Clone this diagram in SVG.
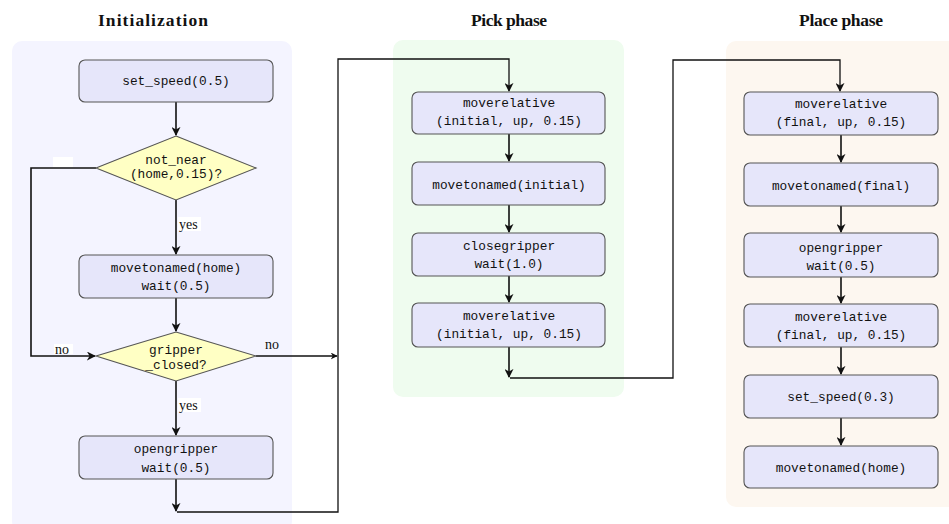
<svg xmlns="http://www.w3.org/2000/svg" width="949" height="524" viewBox="0 0 949 524">
  <style>
    .title { font-family: "Liberation Serif", "DejaVu Serif", serif; font-size: 17.5px; font-weight: bold; fill: #111; text-anchor: middle; }
    .box { fill: #e6e6fa; stroke: #555; stroke-width: 1.1; }
    .dec { fill: #ffffc4; stroke: #555; stroke-width: 1.1; }
    .code { font-family: "Liberation Mono", "DejaVu Sans Mono", monospace; font-size: 12.8px; fill: #111; text-anchor: middle; }
    .lbl { font-family: "Liberation Serif", "DejaVu Serif", serif; font-size: 14px; fill: #111; }
    .edge { fill: none; stroke: #111; stroke-width: 1.6; }
    .link { fill: none; stroke: #111; stroke-width: 1.3; }
  </style>
  <defs>
    <marker id="arr" viewBox="0 0 10 10" refX="9" refY="5" markerWidth="7" markerHeight="7" markerUnits="userSpaceOnUse" orient="auto">
      <path d="M0,0 L10,5 L0,10 L3,5 Z" fill="#111"/>
    </marker>
    <marker id="arrB" viewBox="0 0 10 10" refX="9" refY="5" markerWidth="9" markerHeight="9" markerUnits="userSpaceOnUse" orient="auto">
      <path d="M0,0 L10,5 L0,10 L3,5 Z" fill="#111"/>
    </marker>
  </defs>

  <!-- phase panels -->
  <g id="panels">
    <rect x="12" y="41" width="280" height="490" rx="10" fill="#f4f4ff"/>
    <rect x="393" y="40" width="231" height="357" rx="10" fill="#effcef"/>
    <rect x="726" y="41" width="240" height="466" rx="10" fill="#fdf7f0"/>
  </g>

  <!-- phase titles -->
  <text class="title" x="153" y="26" textLength="110" lengthAdjust="spacing">Initialization</text>
  <text class="title" x="509" y="26" textLength="76" lengthAdjust="spacing">Pick phase</text>
  <text class="title" x="841" y="26" textLength="84" lengthAdjust="spacing">Place phase</text>

  <!-- connectors -->
  <g id="connectors">
    <path class="edge" d="M176,102 V135" marker-end="url(#arrB)"/>
    <path class="edge" d="M176,200 V254" marker-end="url(#arrB)"/>
    <path class="edge" d="M176,298 V331" marker-end="url(#arrB)"/>
    <path class="edge" d="M96,168 H31 V356 H95" marker-end="url(#arrB)"/>
    <path class="edge" d="M176,381 V435" marker-end="url(#arrB)"/>
    <path class="link" d="M256,356 H337" marker-end="url(#arr)"/>
    <path class="edge" d="M176,479 V511" marker-end="url(#arrB)"/>
    <path class="link" d="M177,512 H338 V59 H509 V91" marker-end="url(#arrB)"/>
    <path class="edge" d="M509,134 V161" marker-end="url(#arrB)"/>
    <path class="edge" d="M509,205 V232" marker-end="url(#arrB)"/>
    <path class="edge" d="M509,276 V302" marker-end="url(#arrB)"/>
    <path class="edge" d="M509,347 V377" marker-end="url(#arrB)"/>
    <path class="link" d="M510,378 H673 V60 H840 V91" marker-end="url(#arrB)"/>
    <path class="edge" d="M841,135 V162" marker-end="url(#arrB)"/>
    <path class="edge" d="M841,206 V232" marker-end="url(#arrB)"/>
    <path class="edge" d="M841,277 V303" marker-end="url(#arrB)"/>
    <path class="edge" d="M841,347 V374" marker-end="url(#arrB)"/>
    <path class="edge" d="M841,418 V445" marker-end="url(#arrB)"/>
    <!-- edge labels -->
    <rect x="53" y="157" width="20" height="10" fill="#fff"/>
    <rect x="178" y="217" width="23" height="14" fill="#fff"/>
    <text class="lbl" x="179" y="229">yes</text>
    <rect x="178" y="398" width="23" height="14" fill="#fff"/>
    <text class="lbl" x="179" y="410">yes</text>
    <rect x="54" y="344" width="19" height="10" fill="#fff"/>
    <text class="lbl" x="55" y="354">no</text>
    <text class="lbl" x="265" y="349">no</text>
  </g>

  <!-- Initialization -->
  <g id="init_set_speed">
    <rect class="box" x="79" y="60" width="194" height="42" rx="6"/>
    <text class="code" x="176" y="85">set_speed(0.5)</text>
  </g>
  <g id="init_not_near">
    <polygon class="dec" points="176,136 256,168 176,200 96,168"/>
    <text class="code" x="176" y="164">not_near</text>
    <text class="code" x="176" y="178">(home,0.15)?</text>
  </g>
  <g id="init_move_home">
    <rect class="box" x="79" y="255" width="194" height="43" rx="6"/>
    <text class="code" x="176" y="272">movetonamed(home)</text>
    <text class="code" x="176" y="290">wait(0.5)</text>
  </g>
  <g id="init_gripper_closed">
    <polygon class="dec" points="176,332 256,356 176,381 96,356"/>
    <text class="code" x="176" y="354">gripper</text>
    <text class="code" x="176" y="369">_closed?</text>
  </g>
  <g id="init_open">
    <rect class="box" x="79" y="436" width="194" height="43" rx="6"/>
    <text class="code" x="176" y="453">opengripper</text>
    <text class="code" x="176" y="472">wait(0.5)</text>
  </g>

  <!-- Pick phase -->
  <g id="pick_up1">
    <rect class="box" x="412" y="92" width="193" height="42" rx="6"/>
    <text class="code" x="509" y="107">moverelative</text>
    <text class="code" x="509" y="125">(initial, up, 0.15)</text>
  </g>
  <g id="pick_move">
    <rect class="box" x="412" y="162" width="193" height="43" rx="6"/>
    <text class="code" x="509" y="189">movetonamed(initial)</text>
  </g>
  <g id="pick_close">
    <rect class="box" x="412" y="233" width="193" height="43" rx="6"/>
    <text class="code" x="509" y="250">closegripper</text>
    <text class="code" x="509" y="268">wait(1.0)</text>
  </g>
  <g id="pick_up2">
    <rect class="box" x="412" y="303" width="193" height="44" rx="6"/>
    <text class="code" x="509" y="320">moverelative</text>
    <text class="code" x="509" y="338">(initial, up, 0.15)</text>
  </g>

  <!-- Place phase -->
  <g id="place_up1">
    <rect class="box" x="744" y="92" width="194" height="43" rx="6"/>
    <text class="code" x="841" y="108">moverelative</text>
    <text class="code" x="841" y="126">(final, up, 0.15)</text>
  </g>
  <g id="place_move">
    <rect class="box" x="744" y="163" width="194" height="43" rx="6"/>
    <text class="code" x="841" y="190">movetonamed(final)</text>
  </g>
  <g id="place_open">
    <rect class="box" x="744" y="233" width="194" height="44" rx="6"/>
    <text class="code" x="841" y="252">opengripper</text>
    <text class="code" x="841" y="270">wait(0.5)</text>
  </g>
  <g id="place_up2">
    <rect class="box" x="744" y="304" width="194" height="43" rx="6"/>
    <text class="code" x="841" y="321">moverelative</text>
    <text class="code" x="841" y="339">(final, up, 0.15)</text>
  </g>
  <g id="place_speed">
    <rect class="box" x="744" y="375" width="194" height="43" rx="6"/>
    <text class="code" x="841" y="401">set_speed(0.3)</text>
  </g>
  <g id="place_home">
    <rect class="box" x="744" y="446" width="194" height="42" rx="6"/>
    <text class="code" x="841" y="472">movetonamed(home)</text>
  </g>
</svg>
